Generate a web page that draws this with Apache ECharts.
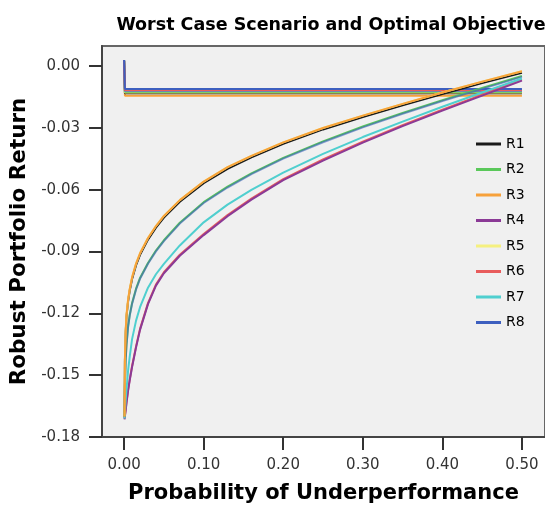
<!DOCTYPE html>
<html><head><meta charset="utf-8">
<script src="https://cdn.jsdelivr.net/npm/echarts@6/dist/echarts.min.js"></script>
<style>html,body{margin:0;padding:0;background:#fff}#c{width:545px;height:509px}</style>
</head><body><div id="c"></div>
<script>
// ---- data ----
const seriesNames = ['R1','R2','R3','R4','R5','R6','R7','R8'];
const seriesColors = ['#1a1a1a','#5ac85a','#f7a13a','#8b3a96','#f5f07f','#e85c5c','#4fcfcf','#3d5fbf'];

// probability of underperformance for the worst-case curves
const probCurve = [0.0005,0.001,0.002,0.003,0.005,0.007,0.01,0.015,0.02,0.03,0.04,0.05,0.07,0.1,0.13,0.16,0.2,0.25,0.3,0.35,0.4,0.45,0.5];
const worstR1 = [-0.170,-0.143,-0.129,-0.1215,-0.1141,-0.1090,-0.1033,-0.0966,-0.0916,-0.0842,-0.0784,-0.0735,-0.0658,-0.0568,-0.0498,-0.0443,-0.0377,-0.0307,-0.0247,-0.0190,-0.0135,-0.0082,-0.0032];
const worstR2 = [-0.170,-0.155,-0.142,-0.1350,-0.1262,-0.1208,-0.1150,-0.1080,-0.1028,-0.0955,-0.0895,-0.0845,-0.0760,-0.0660,-0.0585,-0.0520,-0.0445,-0.0365,-0.0293,-0.0227,-0.0165,-0.0106,-0.0048];
const worstR3 = [-0.170,-0.142,-0.128,-0.1207,-0.1133,-0.1082,-0.1025,-0.0958,-0.0908,-0.0834,-0.0776,-0.0727,-0.0650,-0.0560,-0.0490,-0.0435,-0.0370,-0.0300,-0.0240,-0.0183,-0.0128,-0.0075,-0.0025];
const worstR4 = [-0.1715,-0.171,-0.167,-0.1635,-0.1575,-0.1526,-0.1460,-0.1365,-0.1280,-0.1155,-0.1065,-0.1005,-0.0920,-0.0820,-0.0728,-0.0648,-0.0553,-0.0458,-0.0371,-0.0291,-0.0216,-0.0143,-0.0070];
const worstR5 = [-0.170,-0.142,-0.128,-0.1207,-0.1133,-0.1082,-0.1025,-0.0958,-0.0908,-0.0834,-0.0776,-0.0727,-0.0650,-0.0560,-0.0490,-0.0435,-0.0370,-0.0300,-0.0240,-0.0183,-0.0128,-0.0075,-0.0025];
const worstR6 = [-0.1710,-0.1705,-0.1665,-0.1630,-0.1570,-0.1521,-0.1455,-0.1360,-0.1275,-0.1150,-0.1060,-0.1000,-0.0915,-0.0815,-0.0723,-0.0643,-0.0548,-0.0453,-0.0366,-0.0286,-0.0211,-0.0138,-0.0065];
const worstR7 = [-0.171,-0.168,-0.162,-0.157,-0.1477,-0.1411,-0.1325,-0.1235,-0.1170,-0.1075,-0.1010,-0.0960,-0.0870,-0.0758,-0.0672,-0.0600,-0.0517,-0.0426,-0.0344,-0.0269,-0.0197,-0.0128,-0.0060];
const worstR8 = [-0.1705,-0.1555,-0.1425,-0.1354,-0.1266,-0.1212,-0.1154,-0.1084,-0.1032,-0.0959,-0.0899,-0.0849,-0.0764,-0.0664,-0.0589,-0.0524,-0.0449,-0.0369,-0.0297,-0.0231,-0.0169,-0.0110,-0.0052];
const worstCurves = [worstR1,worstR2,worstR3,worstR4,worstR5,worstR6,worstR7,worstR8];

// optimal objective lines: spike at start, then level
const probFlat = [0, 0.001, 0.5];
const flatTop   = [0.0026,0.0027,0.0024,0.0029,0.0026,0.0028,0.0027,0.0030];
const flatLevel = [-0.0131,-0.0124,-0.0143,-0.0118,-0.0128,-0.0115,-0.0121,-0.0111];

// axis ticks
const xTicks = [0,0.1,0.2,0.3,0.4,0.5];
const yTicks = [0,-0.03,-0.06,-0.09,-0.12,-0.15,-0.18];

// ---- chart ----
const FONT = 'DejaVu Sans';
const flatDrawOrder = [2,0,4,1,6,3,5,7];
const curveDrawOrder = [5,3,1,7,6,0,4,2]; // last on top
const opacityOf = {7:0.6};
const series = [];
flatDrawOrder.forEach(i=>{
  series.push({
    name: seriesNames[i], type:'line', symbol:'none', silent:true,
    color: seriesColors[i],
    lineStyle:{width:2, color: seriesColors[i]},
    data: probFlat.map((p,k)=>[p, k===0 ? flatTop[i] : flatLevel[i]])
  });
});
curveDrawOrder.forEach(i=>{
  series.push({
    name: seriesNames[i], type:'line', symbol:'none', silent:true,
    color: seriesColors[i],
    lineStyle:{width:2, color: seriesColors[i], opacity: opacityOf[i] || 1, join:'round'},
    data: probCurve.map((p,k)=>[p, worstCurves[i][k]])
  });
});

const chart = echarts.init(document.getElementById('c'), null, {renderer:'canvas'});
chart.setOption({
  animation:false,
  backgroundColor:'#ffffff',
  title:{
    text:'Worst Case Scenario and Optimal Objective',
    left:326, top:11, textAlign:'center',
    textStyle:{fontFamily:FONT, fontSize:17.5, fontWeight:'bold', color:'#000'}
  },
  legend:{
    orient:'vertical', left:471, top:132,
    icon:'rect', itemWidth:25, itemHeight:3, itemGap:11.5,
    data: seriesNames,
    textStyle:{fontFamily:FONT, fontSize:14, color:'#000'}
  },
  grid:{
    left:102, top:46, right:-3, bottom:69,
    show:true, backgroundColor:'#f0f0f0', borderColor:'#666', borderWidth:2
  },
  xAxis:{
    type:'value', min:-0.0278, max:0.529,
    name:'Probability of Underperformance', nameLocation:'middle', nameGap:46,
    nameTextStyle:{fontFamily:FONT, fontSize:21, fontWeight:'bold', color:'#000'},
    axisLine:{show:true, onZero:false, lineStyle:{color:'#444', width:2}},
    axisTick:{show:true, length:13, customValues:xTicks, lineStyle:{color:'#333', width:2}},
    axisLabel:{customValues:xTicks, margin:21, fontFamily:FONT, fontSize:15, color:'#333',
      formatter:v=>Number(v).toFixed(2)},
    splitLine:{show:false}
  },
  yAxis:{
    type:'value', min:-0.18, max:0.0098,
    name:'Robust Portfolio Return', nameLocation:'middle', nameGap:58, nameRotate:90,
    nameTextStyle:{fontFamily:FONT, fontSize:21.5, fontWeight:'bold', color:'#000'},
    axisLine:{show:true, onZero:false, lineStyle:{color:'#444', width:2}},
    axisTick:{show:true, length:13, customValues:yTicks, lineStyle:{color:'#333', width:2}},
    axisLabel:{customValues:yTicks, margin:22, fontFamily:FONT, fontSize:15, color:'#333',
      formatter:v=>Number(v).toFixed(2)},
    splitLine:{show:false}
  },
  series: series
});
</script></body></html>
